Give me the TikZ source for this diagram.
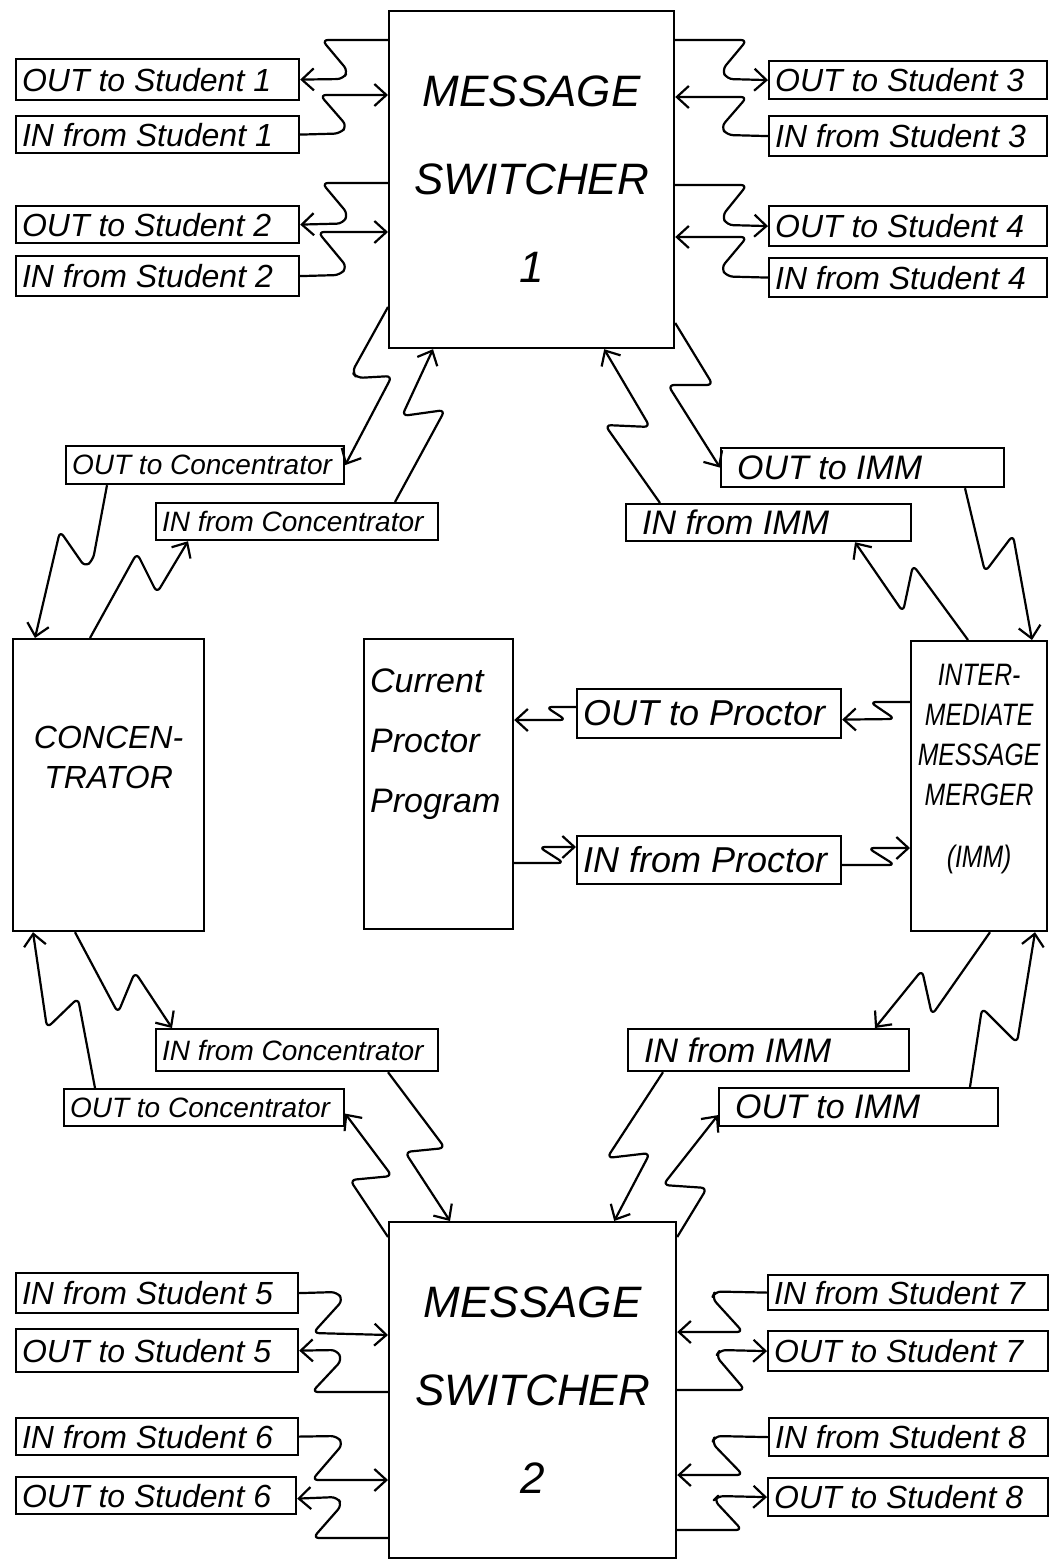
\documentclass[tikz,border=0pt]{standalone}
\usepackage{fontspec}
\setmainfont{Liberation Sans}
\newfontfamily\condfont[FakeStretch=0.8]{Liberation Sans}
\usetikzlibrary{arrows.meta,calc}
\hyphenpenalty=10000
% single-line box: left-aligned text in a box of given corners (pixel coords)
\newcommand\sbx[7][]{%
  \pgfmathsetmacro\bxW{(#5-#3)/2}%
  \pgfmathsetmacro\bxH{(#6-#4)/2}%
  \pgfmathsetmacro\bxT{(#5-#3)/2-6}%
  \node[box,minimum width=\bxW pt,minimum height=\bxH pt,anchor=north west,#1] (#2) at (#3,#4) {\makebox[\bxT pt][l]{#7}};}
% multi-line box
\newcommand\mbx[7][]{%
  \pgfmathsetmacro\bxW{(#5-#3)/2}%
  \pgfmathsetmacro\bxH{(#6-#4)/2}%
  \pgfmathsetmacro\bxT{(#5-#3)/2-6}%
  \node[box,minimum width=\bxW pt,minimum height=\bxH pt,text width=\bxT pt,anchor=north west,#1] (#2) at (#3,#4) {#7};}
\tikzset{
  box/.style={draw, line width=1.1pt, inner xsep=3pt, inner ysep=0pt, align=left,
    font=\itshape\fontsize{16}{18}\selectfont},
  cfont/.style={font=\itshape\fontsize{14}{16}\selectfont},
  ifont/.style={font=\itshape\fontsize{17}{19}\selectfont},
  pfont/.style={font=\itshape\fontsize{18}{20}\selectfont},
  bigtxt/.style={font=\itshape\fontsize{22}{44}\selectfont, align=center},
  conctxt/.style={font=\itshape\fontsize{16}{20}\selectfont, align=center},
  proctxt/.style={font=\itshape\fontsize{17}{30}\selectfont, align=left},
  immtxt/.style={font=\condfont\itshape\fontsize{15.5}{20}\selectfont, align=center},
  conn/.style={line width=1.1pt, rounded corners=3pt, line join=round,
    -{Straight Barb[length=6pt,width=11pt,line width=1.1pt]}},
}
\begin{document}
\begin{tikzpicture}[x=0.5pt,y=-0.5pt]
\fill[white] (0,0) rectangle (1050,1561);
\path[use as bounding box] (0,0) rectangle (1050,1561);

% ---- main boxes
\mbx[bigtxt]{ms1}{388}{10}{673}{347}{MESSAGE\\SWITCHER\\1}
\mbx[bigtxt]{ms2}{388}{1221}{675}{1557}{MESSAGE\\SWITCHER\\2}
\mbx[conctxt]{conc}{12}{638}{203}{930}{CONCEN-\\TRATOR\\[8pt]\mbox{}}
\mbx[proctxt]{proc}{363}{638}{512}{928}{Current\\Proctor\\Program\\[13pt]\mbox{}}
\mbx[immtxt]{imm}{910}{640}{1046}{930}{INTER-\\MEDIATE\\MESSAGE\\MERGER\\[11pt](IMM)\\\mbox{}}

% ---- student boxes
\sbx{s1o}{15}{58}{298}{99}{OUT to Student 1}
\sbx{s1i}{15}{115}{298}{152}{IN from Student 1}
\sbx{s2o}{15}{205}{298}{242}{OUT to Student 2}
\sbx{s2i}{15}{255}{298}{295}{IN from Student 2}
\sbx{s3o}{768}{60}{1046}{98}{OUT to Student 3}
\sbx{s3i}{768}{115}{1046}{155}{IN from Student 3}
\sbx{s4o}{768}{205}{1046}{245}{OUT to Student 4}
\sbx{s4i}{768}{257}{1046}{296}{IN from Student 4}
\sbx{s5i}{15}{1272}{297}{1312}{IN from Student 5}
\sbx{s5o}{15}{1328}{297}{1371}{OUT to Student 5}
\sbx{s6i}{15}{1417}{297}{1454}{IN from Student 6}
\sbx{s6o}{15}{1476}{295}{1513}{OUT to Student 6}
\sbx{s7i}{767}{1274}{1047}{1309}{IN from Student 7}
\sbx{s7o}{767}{1330}{1047}{1370}{OUT to Student 7}
\sbx{s8i}{768}{1417}{1047}{1455}{IN from Student 8}
\sbx{s8o}{767}{1477}{1047}{1515}{OUT to Student 8}

% ---- queue boxes
\sbx[cfont]{oc1}{65}{445}{343}{483}{OUT to Concentrator}
\sbx[cfont]{ic1}{155}{502}{437}{539}{IN from Concentrator}
\sbx[ifont]{oi1}{720}{447}{1003}{486}{\hspace*{5pt}OUT to IMM}
\sbx[ifont]{ii1}{625}{503}{910}{540}{\hspace*{5pt}IN from IMM}
\sbx[pfont]{op}{576}{688}{840}{737}{OUT to Proctor}
\sbx[pfont]{ip}{576}{835}{840}{883}{IN from Proctor}
\sbx[cfont]{ic2}{155}{1028}{437}{1070}{IN from Concentrator}
\sbx[cfont]{oc2}{63}{1088}{343}{1125}{OUT to Concentrator}
\sbx[ifont]{ii2}{627}{1028}{908}{1070}{\hspace*{5pt}IN from IMM}
\sbx[ifont]{oi2}{718}{1087}{997}{1125}{\hspace*{5pt}OUT to IMM}

% ---- MS1 left
\draw[conn] ($(ms1.north west)+(0,30)$) -- (322,40) -- (348,71) -- (343,79) -- (s1o.east);
\draw[conn] (s1i.east) -- (340,133.5) -- (347,126) -- (320,95) -- ($(ms1.north west)+(0,85)$);
\draw[conn] ($(ms1.north west)+(0,173)$) -- (322,183) -- (348,214) -- (343,223.5) -- (s2o.east);
\draw[conn] (s2i.east) -- (340,275) -- (347,267) -- (318,232) -- ($(ms1.north west)+(0,222)$);
% ---- MS1 right
\draw[conn] ($(ms1.north east)+(0,30)$) -- (747,40) -- (722,70) -- (727,79) -- (s3o.west);
\draw[conn] (s3i.west) -- (727,135) -- (721,127) -- (747,97) -- ($(ms1.north east)+(0,87)$);
\draw[conn] ($(ms1.north east)+(0,175)$) -- (747,185) -- (722,216) -- (727,225) -- (s4o.west);
\draw[conn] (s4i.west) -- (727,276.5) -- (721,268) -- (747,237) -- ($(ms1.north east)+(0,227)$);
% ---- MS1 bottom
\draw[conn] ($(ms1.north west)+(0,297)$) -- (352,372) -- (357,378) -- (392,376) -- (oc1.east);
\draw[conn] ($(ic1.north west)+(240,0)$) -- (445,410) -- (402,416) -- ($(ms1.south west)+(45,0)$);
\draw[conn] ($(ms1.north east)+(0,313)$) -- (713,385) -- (668,385) -- (oi1.west);
\draw[conn] ($(ii1.north west)+(35,0)$) -- (605,425) -- (650,427) -- ($(ms1.south east)+(-71,0)$);
% ---- Concentrator top
\draw[conn] ($(oc1.south west)+(42,0)$) -- (93,560) -- (85,567) -- (60,531) -- ($(conc.north west)+(23,0)$);
\draw[conn] ($(conc.north west)+(78,0)$) -- (137,553) -- (157,593) -- ($(ic1.south west)+(33,0)$);
% ---- IMM top
\draw[conn] ($(oi1.south west)+(245,0)$) -- (985,572) -- (1013,535) -- ($(imm.north west)+(122,0)$);
\draw[conn] ($(imm.north west)+(58,0)$) -- (913,565) -- (903,612) -- ($(ii1.south west)+(230,0)$);
% ---- Proctor
\draw[conn] ($(imm.north west)+(0,62)$) -- (870,702) -- (895,719) -- ($(op.east)+(0,6)$);
\draw[conn] ($(op.north west)+(0,19)$) -- (546,707) -- (566,720) -- ($(proc.north east)+(0,82)$);
\draw[conn] ($(proc.north east)+(0,225)$) -- (564,863) -- (539,847) -- ($(ip.north west)+(0,12)$);
\draw[conn] ($(ip.north east)+(0,30)$) -- (895,865) -- (868,848) -- ($(imm.north west)+(0,208)$);
% ---- Concentrator bottom
\draw[conn] ($(oc2.north west)+(32,0)$) -- (78,998) -- (47,1028) -- ($(conc.south west)+(21,0)$);
\draw[conn] ($(conc.south west)+(63,0)$) -- (118,1013) -- (135,972) -- ($(ic2.north west)+(17,0)$);
\draw[conn] ($(ic2.south west)+(233,0)$) -- (445,1148) -- (405,1152) -- ($(ms2.north west)+(62,0)$);
\draw[conn] ($(ms2.north west)+(0,16)$) -- (350,1180) -- (392,1176) -- ($(oc2.east)+(0,6)$);
% ---- IMM bottom
\draw[conn] ($(oi2.north west)+(252,0)$) -- (982,1008) -- (1017,1043) -- ($(imm.south west)+(125,0)$);
\draw[conn] ($(imm.south west)+(80,0)$) -- (932,1015) -- (922,970) -- ($(ii2.north west)+(248,0)$);
\draw[conn] ($(ii2.south west)+(36,0)$) -- (607,1158) -- (650,1153) -- ($(ms2.north east)+(-63,0)$);
\draw[conn] ($(ms2.north east)+(0,16)$) -- (707,1188) -- (663,1185) -- ($(oi2.west)+(0,8)$);
% ---- MS2 left
\draw[conn] (s5i.east) -- (337,1292) -- (343,1300) -- (313,1333) -- ($(ms2.north west)+(0,114)$);
\draw[conn] ($(ms2.north west)+(0,171)$) -- (312,1392) -- (342,1360) -- (337,1350) -- (s5o.east);
\draw[conn] (s6i.east) -- (337,1436) -- (343,1444) -- (312,1480) -- ($(ms2.north west)+(0,259)$);
\draw[conn] ($(ms2.north west)+(0,317)$) -- (313,1538) -- (342,1505) -- (337,1497) -- ($(s6o.east)+(0,3)$);
% ---- MS2 right
\draw[conn] (s7i.west) -- (715,1291.5) -- (712,1298) -- (743,1332) -- ($(ms2.north east)+(0,111)$);
\draw[conn] ($(ms2.north east)+(0,169)$) -- (745,1390) -- (716,1356) -- (720,1350) -- (s7o.west);
\draw[conn] (s8i.west) -- (715,1436) -- (712,1443) -- (743,1475) -- ($(ms2.north east)+(0,254)$);
\draw[conn] ($(ms2.north east)+(0,309)$) -- (742,1530) -- (714,1500) -- (718,1496) -- (s8o.west);
\end{tikzpicture}
\end{document}
